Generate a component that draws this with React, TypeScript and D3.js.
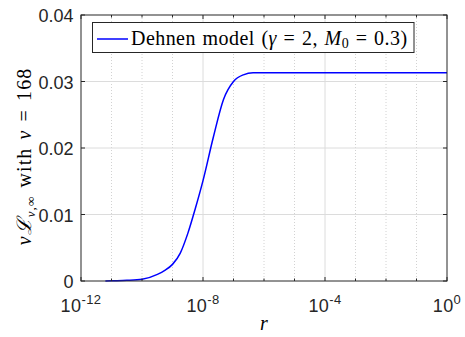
import React from "react";
import * as d3 from "d3";

const rValues = [6.3e-12, 1e-11, 3.2e-11, 1e-10, 3.2e-10, 5.6e-10, 1e-9, 1.8e-9, 3.2e-9, 5.6e-9, 1e-8, 2.2e-8, 4.7e-8, 1e-7, 2.1e-7, 4.4e-7, 1e-6, 1e-4, 1e-2, 1];
const lumValues = [0, 0.00003, 0.0001, 0.00026, 0.001, 0.0016, 0.0025, 0.0042, 0.0072, 0.0109, 0.0151, 0.0217, 0.0273, 0.03, 0.031, 0.0313, 0.0313, 0.0313, 0.0313, 0.0313];
const xMajorTicks = [1e-12, 1e-8, 1e-4, 1];
const xMajorExponents = ["-12", "-8", "-4", "0"];
const xDecades = [1e-12, 1e-11, 1e-10, 1e-9, 1e-8, 1e-7, 1e-6, 1e-5, 1e-4, 1e-3, 1e-2, 1e-1, 1];
const yTicks = [0, 0.01, 0.02, 0.03, 0.04];
const yTickLabels = ["0", "0.01", "0.02", "0.03", "0.04"];

const W = 465, H = 337;
const L = 81, R = 447, T = 15, B = 281;
const axisColor = "#262626";
const sans = "'Liberation Sans', Arial, sans-serif";
const serif = "'Liberation Serif', 'DejaVu Serif', serif";

export default function App() {
  const x = d3.scaleLog().domain([1e-12, 1]).range([L, R]);
  const y = d3.scaleLinear().domain([0, 0.04]).range([B, T]);
  const pts = rValues.map((r, i) => [r, lumValues[i]] as [number, number]);
  const line = d3
    .line<[number, number]>()
    .x((d) => x(d[0]))
    .y((d) => y(d[1]))
    .curve(d3.curveMonotoneX);
  const path = line(pts) || "";

  return (
    <svg width={W} height={H} style={{ position: "absolute", left: 0, top: 0, background: "#fff" }}>
      <rect x={0} y={0} width={W} height={H} fill="#fff" />
      {/* grid */}
      {xDecades.map((d, i) => {
        const major = xMajorTicks.includes(d);
        if (d === 1e-12 || d === 1) return null;
        return (
          <line key={"gx" + i} x1={x(d)} x2={x(d)} y1={T} y2={B}
            stroke={major ? "#dcdcdc" : "#d2d2d2"} strokeWidth={1}
            strokeDasharray={major ? undefined : "1,2"} />
        );
      })}
      {yTicks.slice(1, -1).map((t, i) => (
        <line key={"gy" + i} x1={L} x2={R} y1={y(t)} y2={y(t)} stroke="#dcdcdc" strokeWidth={1} />
      ))}
      {/* curve */}
      <path d={path} fill="none" stroke="#0000ff" strokeWidth={1.5} />
      {/* box */}
      <rect x={L} y={T} width={R - L} height={B - T} fill="none" stroke={axisColor} strokeWidth={1} />
      {/* ticks */}
      {xDecades.map((d, i) => {
        const major = xMajorTicks.includes(d);
        const len = major ? 4 : 2.5;
        return (
          <g key={"tx" + i}>
            <line x1={x(d)} x2={x(d)} y1={B} y2={B - len} stroke={axisColor} />
            <line x1={x(d)} x2={x(d)} y1={T} y2={T + len} stroke={axisColor} />
          </g>
        );
      })}
      {yTicks.map((t, i) => (
        <g key={"ty" + i}>
          <line x1={L} x2={L + 4} y1={y(t)} y2={y(t)} stroke={axisColor} />
          <line x1={R} x2={R - 4} y1={y(t)} y2={y(t)} stroke={axisColor} />
          <text x={73.5} y={y(t) + 7} textAnchor="end" fontFamily={sans} fontSize={18} fill={axisColor}>
            {yTickLabels[i]}
          </text>
        </g>
      ))}
      {xMajorTicks.map((t, i) => (
        <text key={"xl" + i} x={x(t)} y={312} textAnchor="middle" fontFamily={sans} fontSize={18} letterSpacing={0.4} fill={axisColor}>
          10
          <tspan dy={-8} fontSize={13}>{xMajorExponents[i]}</tspan>
        </text>
      ))}
      {/* x label */}
      <text x={264} y={330} textAnchor="middle" fontFamily={serif} fontStyle="italic" fontSize={20} fill="#000">r</text>
      {/* y label */}
      <text transform={`translate(31,156.5) rotate(-90)`} textAnchor="middle" fontFamily={serif} fontSize={20} letterSpacing={1.1} wordSpacing={2} fill="#000">
        <tspan fontStyle="italic">ν</tspan>
        <tspan fontStyle="italic">ℒ</tspan>
        <tspan fontStyle="italic" fontSize={13} dy={4}>ν,∞</tspan>
        <tspan dy={-4}> with </tspan>
        <tspan fontStyle="italic">ν</tspan>
        <tspan> = 168</tspan>
      </text>
      {/* legend */}
      <rect x={92.5} y={22.5} width={321.5} height={30} fill="#fff" stroke={axisColor} strokeWidth={1} />
      <line x1={97} x2={128} y1={39} y2={39} stroke="#0000ff" strokeWidth={1.5} />
      <text x={131} y={45} fontFamily={serif} fontSize={20} letterSpacing={0.45} wordSpacing={1.2} fill="#000">
        Dehnen model (<tspan fontStyle="italic">γ</tspan> = 2, <tspan fontStyle="italic">M</tspan>
        <tspan fontSize={14} dy={3}>0</tspan>
        <tspan dy={-3}> = 0.3)</tspan>
      </text>
    </svg>
  );
}
